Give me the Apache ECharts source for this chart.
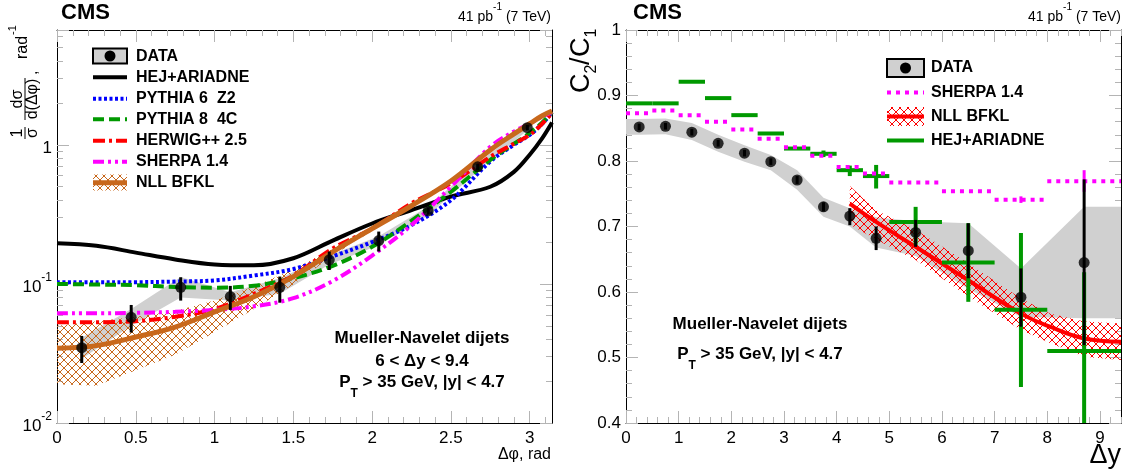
<!DOCTYPE html>
<html><head><meta charset="utf-8">
<script src="https://cdn.jsdelivr.net/npm/echarts@6/dist/echarts.min.js"></script>
<style>html,body{margin:0;padding:0;background:#fff}#c{width:1133px;height:472px}</style>
</head><body><div id="c"></div>
<script>
// ================= LEFT PANEL DATA (1/sigma dsigma/d(dphi)) =================
const dphiCenters = [0.157,0.471,0.785,1.100,1.414,1.728,2.042,2.356,2.670,2.985];
const dphiData    = [0.0348,0.0575,0.0946,0.0811,0.0946,0.149,0.205,0.335,0.695,1.33];
const dphiStatLo  = [0.0270,0.0447,0.0759,0.0650,0.0733,0.126,0.171,0.315,0.660,1.27];
const dphiStatHi  = [0.0423,0.0706,0.1117,0.0968,0.1130,0.171,0.238,0.355,0.730,1.39];
const dphiSysLo   = [0.029,0.050,0.080,0.076,0.085,0.138,0.190,0.310,0.650,1.27];
const dphiSysHi   = [0.041,0.066,0.112,0.087,0.110,0.160,0.220,0.360,0.740,1.39];

const phiGrid   = [0,0.25,0.5,0.75,1,1.25,1.5,1.75,2,2.25,2.5,2.75,2.9,3.0,3.08,3.1416];
const hejAriadne= [0.196,0.188,0.168,0.150,0.138,0.136,0.153,0.205,0.272,0.340,0.425,0.50,0.64,0.85,1.12,1.45];
const pythia6Z2 = [0.103,0.103,0.103,0.104,0.106,0.115,0.128,0.158,0.200,0.265,0.40,0.76,1.00,1.18,1.42,1.72];
const pythia84C = [0.100,0.099,0.098,0.095,0.094,0.097,0.110,0.135,0.185,0.285,0.46,0.78,1.02,1.22,1.45,1.72];
const herwig25  = [0.053,0.053,0.054,0.058,0.066,0.085,0.115,0.180,0.250,0.380,0.53,0.82,1.02,1.18,1.42,1.70];
const sherpa14L = [0.0615,0.0615,0.062,0.063,0.065,0.069,0.079,0.105,0.160,0.265,0.50,0.97,1.25,1.42,1.60,1.72];
const nllBfklL  = [0.0345,0.036,0.0415,0.049,0.063,0.081,0.113,0.170,0.250,0.365,0.55,0.92,1.20,1.42,1.62,1.75];
const nllBfklLLo= [0.019,0.0185,0.024,0.031,0.045,0.066,0.099,0.160,0.240,0.355,0.54,0.90,1.18,1.40,1.60,1.72];
const nllBfklLHi= [0.050,0.054,0.058,0.064,0.076,0.096,0.127,0.180,0.260,0.375,0.56,0.94,1.22,1.45,1.64,1.78];

// ================= RIGHT PANEL DATA (C2/C1) =================
const dyCenters = [0.25,0.75,1.25,1.75,2.25,2.75,3.25,3.75,4.25,4.75,5.5,6.5,7.5,8.7];
const c2c1Data  = [0.852,0.853,0.844,0.827,0.812,0.799,0.771,0.730,0.716,0.682,0.691,0.663,0.592,0.645];
const c2c1StatLo= [0.847,0.848,0.839,0.822,0.807,0.794,0.765,0.723,0.702,0.664,0.669,0.621,0.547,0.519];
const c2c1StatHi= [0.857,0.858,0.849,0.832,0.817,0.804,0.777,0.737,0.728,0.700,0.710,0.705,0.636,0.772];
const sysDy     = [0,0.25,0.75,1.25,1.75,2.25,2.75,3.25,3.75,4.25,4.75,5.5,6.5,7.5,8.7,9.4];
const c2c1SysHi = [0.864,0.864,0.865,0.858,0.840,0.824,0.809,0.786,0.744,0.728,0.714,0.708,0.705,0.636,0.730,0.730];
const c2c1SysLo = [0.840,0.840,0.841,0.832,0.814,0.799,0.786,0.756,0.715,0.700,0.668,0.655,0.605,0.562,0.560,0.560];

const binLo     = [0,0.5,1,1.5,2,2.5,3,3.5,4,4.5,5,6,7,8];
const binHi     = [0.5,1,1.5,2,2.5,3,3.5,4,4.5,5,6,7,8,9.4];
const sherpa14R = [0.873,0.877,0.870,0.860,0.848,0.834,0.821,0.808,0.791,0.781,0.767,0.754,0.741,0.769];
const hejR      = [0.888,0.888,0.921,0.896,0.870,0.842,0.819,0.811,0.786,0.777,0.707,0.645,0.573,0.510];
const hejErrX   = [3.75,4.25,4.75,5.5,6.5,7.5,8.7];
const hejErrLo  = [0.806,0.777,0.758,0.672,0.585,0.455,0.390];
const hejErrHi  = [0.816,0.793,0.794,0.730,0.705,0.690,0.630];
const sherpaErrX  = [7.5,8.7];
const sherpaErrLo = [0.736,0.753];
const sherpaErrHi = [0.746,0.786];

const nllDy   = [4.25,4.75,5.5,6.5,7.5,8.05,8.7,9.4];
const nllC    = [0.735,0.707,0.669,0.618,0.567,0.547,0.529,0.524];
const nllCLo  = [0.703,0.680,0.649,0.593,0.542,0.522,0.501,0.496];
const nllCHi  = [0.762,0.725,0.695,0.644,0.590,0.567,0.555,0.552];

// tick label values
const dphiTicks = [0,0.5,1,1.5,2,2.5,3];
const dyTicks   = [0,1,2,3,4,5,6,7,8,9];
const c2c1Ticks = [0.4,0.5,0.6,0.7,0.8,0.9,1];
const logTickLabels = {'0.01':'{b|10}{s|-2}','0.1':'{b|10}{s|-1}','1':'{b|1}'};

// ================= STYLE =================
const FONT = '"Liberation Sans", Arial, Helvetica, sans-serif';
const TICKC = '#b4b4b4';
const C_OR = '#c8681c', C_GR = '#009900', C_BL = '#0000ff', C_RD = '#ff0000', C_MG = '#ff00ff', C_GRAY = '#d0d0d0';

function hatch(color, step) {
  const c = document.createElement('canvas'); c.width = step; c.height = step;
  const g = c.getContext('2d'); g.strokeStyle = color; g.lineWidth = 1;
  g.beginPath();
  g.moveTo(-1,-1); g.lineTo(step+1,step+1);
  g.moveTo(step+1,-1); g.lineTo(-1,step+1);
  g.stroke();
  return c;
}
const hatchOr = {image: hatch(C_OR, 8), repeat: 'repeat'};
const hatchRd = {image: hatch(C_RD, 8), repeat: 'repeat'};

function steps(from, to, st, skip) {
  const out = [];
  for (let k = 0; from + k*st <= to + 1e-9; k++) {
    const v = +(from + k*st).toFixed(3);
    if (!skip.some(s => Math.abs(s - v) < 1e-6)) out.push(v);
  }
  return out;
}
const dphiMinor = steps(0, 3.1, 0.1, dphiTicks);
const dyMinor = steps(0, 9.4, 0.2, dyTicks);
const c2c1Minor = steps(0.4, 1, 0.02, c2c1Ticks);
const logMinor = [];
[0.01,0.1,1].forEach(d => { for (let m = 2; m <= 9; m++) { const v = +(d*m).toPrecision(3); if (v < 6.7) logMinor.push(v); } });

function ax(gi, pos, type, min, max, vals, len, main, label) {
  const o = {
    type, gridIndex: gi, position: pos, min, max,
    axisLine: {show: main, onZero: false, lineStyle: {color: '#000', width: 1}},
    axisTick: {show: true, inside: true, length: len, lineStyle: {color: TICKC, width: 1}},
    axisLabel: {show: false},
    splitLine: {show: false}, minorTick: {show: false}, minorSplitLine: {show: false}
  };
  if (vals) o.axisTick.customValues = vals;
  if (label) o.axisLabel = Object.assign({show: true, color: '#000', fontFamily: FONT, fontSize: 17}, label);
  return o;
}
const PI = 3.14159265;
const xAxes = [
  ax(0,'bottom','value',0,PI,dphiTicks,12,true,{customValues: dphiTicks, margin: 7}),
  ax(0,'bottom','value',0,PI,dphiMinor,6,false,null),
  ax(0,'top','value',0,PI,dphiTicks,12,true,null),
  ax(0,'top','value',0,PI,dphiMinor,6,false,null),
  ax(1,'bottom','value',0,9.4,dyTicks,12,true,{customValues: dyTicks, margin: 7}),
  ax(1,'bottom','value',0,9.4,dyMinor,6,false,null),
  ax(1,'top','value',0,9.4,dyTicks,12,true,null),
  ax(1,'top','value',0,9.4,dyMinor,6,false,null)
];
const logLabel = {
  margin: 5,
  formatter: v => { const k = String(+(+v).toPrecision(3)); return logTickLabels[k] || ''; },
  rich: {
    b: {fontSize: 17, fontFamily: FONT, lineHeight: 24, verticalAlign: 'bottom', color: '#000'},
    s: {fontSize: 12, fontFamily: FONT, lineHeight: 12, verticalAlign: 'top', color: '#000'}
  }
};
const yAxes = [
  ax(0,'left','log',0.01,6.7,null,12,true,logLabel),
  ax(0,'left','log',0.01,6.7,logMinor,6,false,null),
  ax(0,'right','log',0.01,6.7,null,12,true,null),
  ax(0,'right','log',0.01,6.7,logMinor,6,false,null),
  ax(1,'left','value',0.4,1,c2c1Ticks,12,true,{customValues: c2c1Ticks, margin: 5}),
  ax(1,'left','value',0.4,1,c2c1Minor,6,false,null),
  ax(1,'right','value',0.4,1,c2c1Ticks,12,true,null),
  ax(1,'right','value',0.4,1,c2c1Minor,6,false,null)
];

// ================= RENDERERS =================
function bandRender(xs, lo, hi, fill) {
  return function (params, api) {
    if (params.dataIndex !== 0) return null;
    const pts = [];
    for (let i = 0; i < xs.length; i++) pts.push(api.coord([xs[i], hi[i]]));
    for (let i = xs.length - 1; i >= 0; i--) pts.push(api.coord([xs[i], lo[i]]));
    return {type: 'polygon', shape: {points: pts}, style: {fill: fill, stroke: null}};
  };
}
function vbarRender(color, width) {
  return function (params, api) {
    const x = api.value(0), lo = api.value(1), hi = api.value(2);
    const a = api.coord([x, lo]), b = api.coord([x, hi]);
    return {type: 'line', shape: {x1: a[0], y1: a[1], x2: b[0], y2: b[1]}, style: {stroke: color, lineWidth: width}};
  };
}
function hsegRender(color, width, dash) {
  return function (params, api) {
    const x0 = api.value(0), x1 = api.value(1), y = api.value(2);
    const a = api.coord([x0, y]), b = api.coord([x1, y]);
    const st = {stroke: color, lineWidth: width};
    if (dash) st.lineDash = dash;
    return {type: 'line', shape: {x1: a[0], y1: a[1], x2: b[0], y2: b[1]}, style: st};
  };
}
function custom(gi, data, render, z) {
  return {type: 'custom', xAxisIndex: gi*4, yAxisIndex: gi*4, data, renderItem: render, clip: true, z, silent: true, animation: false};
}
function curve(xs, ys, color, width, type, z) {
  return {type: 'line', xAxisIndex: 0, yAxisIndex: 0, data: xs.map((x, i) => [x, ys[i]]), showSymbol: false, symbol: 'none',
    smooth: 0.35, lineStyle: {color, width, type, cap: 'butt'}, z, silent: true, animation: false, clip: true};
}

const series = [
  // left
  custom(0, dphiCenters.map((x,i)=>[x, dphiSysLo[i], dphiSysHi[i]]), bandRender(dphiCenters, dphiSysLo, dphiSysHi, C_GRAY), 2),
  custom(0, phiGrid.map((x,i)=>[x, nllBfklLLo[i], nllBfklLHi[i]]), bandRender(phiGrid, nllBfklLLo, nllBfklLHi, hatchOr), 3),
  curve(phiGrid, hejAriadne, '#000', 4, 'solid', 4),
  curve(phiGrid, pythia6Z2, C_BL, 4, [3,2.5], 5),
  curve(phiGrid, pythia84C, C_GR, 4, [11,5], 6),
  curve(phiGrid, herwig25, C_RD, 4, [12,4,3,4], 7),
  curve(phiGrid, sherpa14L, C_MG, 4, [11,4,3,4,3,4], 8),
  curve(phiGrid, nllBfklL, C_OR, 5, 'solid', 9),
  custom(0, dphiCenters.map((x,i)=>[x, dphiStatLo[i], dphiStatHi[i]]), vbarRender('#000', 3), 10),
  {type: 'scatter', xAxisIndex: 0, yAxisIndex: 0, data: dphiCenters.map((x,i)=>[x, dphiData[i]]), symbol: 'circle', symbolSize: 11,
    itemStyle: {color: '#000'}, z: 11, silent: true, animation: false},
  // right
  custom(1, sysDy.map((x,i)=>[x, c2c1SysLo[i], c2c1SysHi[i]]), bandRender(sysDy, c2c1SysLo, c2c1SysHi, C_GRAY), 2),
  custom(1, nllDy.map((x,i)=>[x, nllCLo[i], nllCHi[i]]), bandRender(nllDy, nllCLo, nllCHi, hatchRd), 3),
  {type: 'line', xAxisIndex: 4, yAxisIndex: 4, data: nllDy.map((x,i)=>[x, nllC[i]]), showSymbol: false, symbol: 'none', smooth: 0.4,
    lineStyle: {color: C_RD, width: 4}, z: 4, silent: true, animation: false},
  custom(1, binLo.map((x,i)=>[x, binHi[i], hejR[i]]), hsegRender(C_GR, 4, null), 5),
  custom(1, hejErrX.map((x,i)=>[x, hejErrLo[i], hejErrHi[i]]), vbarRender(C_GR, 4), 5),
  custom(1, binLo.map((x,i)=>[x, binHi[i], sherpa14R[i]]), hsegRender(C_MG, 4, [4,5]), 6),
  custom(1, sherpaErrX.map((x,i)=>[x, sherpaErrLo[i], sherpaErrHi[i]]), vbarRender(C_MG, 3), 6),
  custom(1, dyCenters.map((x,i)=>[x, c2c1StatLo[i], c2c1StatHi[i]]), vbarRender('#000', 3), 10),
  {type: 'scatter', xAxisIndex: 4, yAxisIndex: 4, data: dyCenters.map((x,i)=>[x, c2c1Data[i]]), symbol: 'circle', symbolSize: 11,
    itemStyle: {color: '#000'}, z: 11, silent: true, animation: false}
];

// ================= GRAPHIC (titles, legends, annotations) =================
function txt(x, y, text, font, align, extra) {
  return Object.assign({type: 'text', x, y, silent: true, style: Object.assign({text, font, fill: '#000', align: align || 'left', verticalAlign: 'middle'}, extra || {})});
}
function ln(x1, y1, x2, y2, color, w, dash) {
  const st = {stroke: color, lineWidth: w}; if (dash) st.lineDash = dash;
  return {type: 'line', silent: true, shape: {x1, y1, x2, y2}, style: st};
}
const BOLD16 = 'bold 16px ' + FONT;
const BOLD17 = 'bold 17px ' + FONT;
const supRich = (fs) => ({
  a: {font: fs + 'px ' + FONT, lineHeight: 22, verticalAlign: 'bottom'},
  s: {font: Math.round(fs*0.72) + 'px ' + FONT, lineHeight: 10, verticalAlign: 'top'}
});
const subRich = {
  n: {font: BOLD17, lineHeight: 26, verticalAlign: 'top'},
  t: {font: 'bold 12px ' + FONT, lineHeight: 26, verticalAlign: 'bottom'}
};

const LROWS = [56.7, 77.3, 98.7, 119.3, 140.7, 161.7, 182.7];
const RROWS = [68, 92.5, 116.5, 140.5];
const YT = '16px ' + FONT;
const graphic = [
  // headers
  txt(61, 13, 'CMS', 'bold 22px ' + FONT),
  txt(551, 13, '{a|41 pb}{s|-1}{a| (7 TeV)}', '14px ' + FONT, 'right', {rich: supRich(14)}),
  txt(633, 13, 'CMS', 'bold 22px ' + FONT),
  txt(1121, 13, '{a|41 pb}{s|-1}{a| (7 TeV)}', '14px ' + FONT, 'right', {rich: supRich(14)}),
  // axis titles
  txt(551, 455, 'Δφ, rad', '16px ' + FONT, 'right'),
  txt(1121, 456, 'Δy', '27px ' + FONT, 'right'),
  {type: 'group', x: 25, y: 141, rotation: Math.PI/2, silent: true, children: [
    txt(8, -7.5, '1', YT, 'center'),
    ln(2, 0, 14, 0, '#000', 1),
    txt(8, 7.5, 'σ', YT, 'center'),
    txt(42, -7.5, 'dσ', YT, 'center'),
    ln(21, 0, 63, 0, '#000', 1),
    txt(42, 7.5, 'd(Δφ)', YT, 'center'),
    txt(66, 8, ',', YT, 'left'),
    txt(82, -2, 'rad', YT, 'left'),
    txt(106, -12, '-1', '11px ' + FONT, 'left')
  ]},
  {type: 'group', x: 582, y: 93, rotation: Math.PI/2, silent: true, children: [
    txt(0, 0, 'C', '27px ' + FONT, 'left'),
    txt(19.5, 10, '2', '16px ' + FONT, 'left'),
    txt(28, 0, '/', '27px ' + FONT, 'left'),
    txt(36, 0, 'C', '27px ' + FONT, 'left'),
    txt(55.5, 10, '1', '16px ' + FONT, 'left')
  ]},
  // left annotation
  txt(422, 338, 'Mueller-Navelet dijets', BOLD17, 'center'),
  txt(422, 361, '6 < Δy < 9.4', BOLD17, 'center'),
  txt(422, 387, '{n|P}{t|T}{n| > 35 GeV, |y| < 4.7}', BOLD17, 'center', {rich: subRich}),
  // right annotation
  txt(760, 324, 'Mueller-Navelet dijets', BOLD17, 'center'),
  txt(760, 359, '{n|P}{t|T}{n| > 35 GeV, |y| < 4.7}', BOLD17, 'center', {rich: subRich}),
  // left legend
  {type: 'rect', silent: true, shape: {x: 93, y: 48.5, width: 34, height: 15}, style: {fill: C_GRAY, stroke: '#000', lineWidth: 2}},
  {type: 'circle', silent: true, shape: {cx: 110, cy: 56, r: 5.5}, style: {fill: '#000'}},
  txt(136, LROWS[0], 'DATA', BOLD16),
  ln(93, LROWS[1], 127, LROWS[1], '#000', 4),
  txt(136, LROWS[1], 'HEJ+ARIADNE', BOLD16),
  ln(93, LROWS[2], 127, LROWS[2], C_BL, 4, [3,2.5]),
  txt(136, LROWS[2], 'PYTHIA 6  Z2', BOLD16),
  ln(93, LROWS[3], 127, LROWS[3], C_GR, 4, [11,5]),
  txt(136, LROWS[3], 'PYTHIA 8  4C', BOLD16),
  ln(93, LROWS[4], 127, LROWS[4], C_RD, 4, [12,4,3,4]),
  txt(136, LROWS[4], 'HERWIG++ 2.5', BOLD16),
  ln(93, LROWS[5], 127, LROWS[5], C_MG, 4, [11,4,3,4,3,4]),
  txt(136, LROWS[5], 'SHERPA 1.4', BOLD16),
  {type: 'rect', silent: true, shape: {x: 93, y: 174.5, width: 34, height: 16}, style: {fill: hatchOr, stroke: null}},
  ln(93, LROWS[6], 127, LROWS[6], C_OR, 5),
  txt(136, LROWS[6], 'NLL BFKL', BOLD16),
  // right legend
  {type: 'rect', silent: true, shape: {x: 887, y: 59, width: 37, height: 18}, style: {fill: C_GRAY, stroke: '#000', lineWidth: 2}},
  {type: 'circle', silent: true, shape: {cx: 905.5, cy: 68, r: 5.5}, style: {fill: '#000'}},
  txt(931, RROWS[0], 'DATA', BOLD16),
  ln(887, RROWS[1], 924, RROWS[1], C_MG, 4, [4,5]),
  txt(931, RROWS[1], 'SHERPA 1.4', BOLD16),
  {type: 'rect', silent: true, shape: {x: 887, y: 107, width: 37, height: 19}, style: {fill: hatchRd, stroke: null}},
  ln(887, RROWS[2], 924, RROWS[2], C_RD, 4),
  txt(931, RROWS[2], 'NLL BFKL', BOLD16),
  ln(887, RROWS[3], 924, RROWS[3], C_GR, 4),
  txt(931, RROWS[3], 'HEJ+ARIADNE', BOLD16)
];

const chart = echarts.init(document.getElementById('c'), null, {renderer: 'canvas'});
chart.setOption({
  animation: false,
  backgroundColor: '#fff',
  textStyle: {fontFamily: FONT},
  grid: [
    {left: 57, top: 30, width: 495, height: 393, containLabel: false},
    {left: 626, top: 30, width: 495, height: 393, containLabel: false}
  ],
  xAxis: xAxes,
  yAxis: yAxes,
  series,
  graphic
});
</script></body></html>
